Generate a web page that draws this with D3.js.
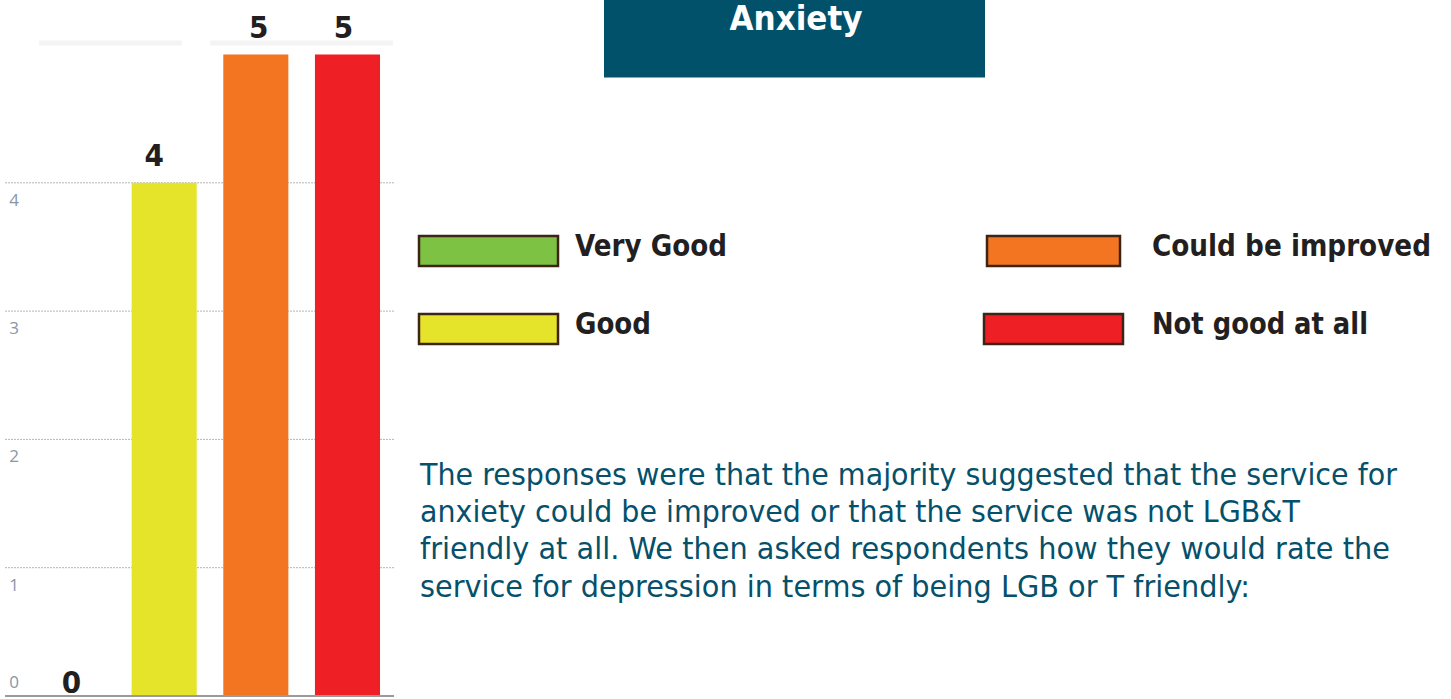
<!DOCTYPE html>
<html>
<head>
<meta charset="utf-8">
<script src="https://cdn.jsdelivr.net/npm/d3@7"></script>
<style>
  html, body { margin: 0; padding: 0; background: #fff; }
  svg { display: block; }
</style>
</head>
<body>
<div class="chart"></div>
<script>
// data
var categories = ["Very Good", "Good", "Could be improved", "Not good at all"];
var counts = [0, 4, 5, 5];
var barColors = ["#7dc242", "#e6e42a", "#f37522", "#ee1f25"];
var yTicks = [0, 1, 2, 3, 4];
var title = "Anxiety";
var noteLines = [
  "The responses were that the majority suggested that the service for",
  "anxiety could be improved or that the service was not LGB&T",
  "friendly at all. We then asked respondents how they would rate the",
  "service for depression in terms of being LGB or T friendly:"
];

var W = 1451, H = 699;
var svg = d3.select(".chart").append("svg")
  .attr("width", W)
  .attr("height", H);

var x = d3.scaleBand()
  .domain(categories)
  .range([26.7, 393.3])
  .paddingInner(0.29)
  .paddingOuter(0.145);

var y = d3.scaleLinear()
  .domain([0, 5])
  .range([696, 54.5]);

// faint band at the top (crop edge of the original chart)
svg.append("line")
  .attr("x1", 39).attr("x2", 182).attr("y1", 43).attr("y2", 43)
  .style("stroke", "#f4f4f4").style("stroke-width", 5);
svg.append("line")
  .attr("x1", 210).attr("x2", 393).attr("y1", 43).attr("y2", 43)
  .style("stroke", "#f4f4f4").style("stroke-width", 5);

// dotted gridlines
svg.selectAll(".grid")
  .data(yTicks.filter(function (d) { return d > 0; }))
  .enter().append("line")
  .attr("class", "grid")
  .attr("x1", 5).attr("x2", 395)
  .attr("y1", function (d) { return y(d); })
  .attr("y2", function (d) { return y(d); })
  .style("stroke", "#b4b4b4")
  .style("stroke-width", 1)
  .style("stroke-dasharray", "2,1");

// tick labels sit just under their gridline
svg.selectAll(".tick-label")
  .data(yTicks)
  .enter().append("text")
  .attr("class", "tick-label")
  .attr("x", 14)
  .attr("y", function (d) { return Math.min(y(d) + 23, 688); })
  .attr("text-anchor", "middle")
  .style("font-family", "'Open Sans', sans-serif")
  .style("font-size", "17px")
  .style("fill", "#8b95a8")
  .text(function (d) { return d; });

// bars
svg.selectAll(".bar")
  .data(counts)
  .enter().append("rect")
  .attr("class", "bar")
  .attr("x", function (d, i) { return x(categories[i]); })
  .attr("width", x.bandwidth())
  .attr("y", function (d) { return y(d); })
  .attr("height", function (d) { return y(0) - y(d); })
  .attr("fill", function (d, i) { return barColors[i]; });

// baseline
svg.append("line")
  .attr("x1", 5).attr("x2", 394)
  .attr("y1", y(0)).attr("y2", y(0))
  .style("stroke", "#9a9a9a")
  .style("stroke-width", 2);

// value labels (the original nudges some of them off centre)
var labelNudge = [-1, -10, 3, -4];
svg.selectAll(".value")
  .data(counts)
  .enter().append("text")
  .attr("class", "value")
  .attr("x", function (d, i) { return x(categories[i]) + x.bandwidth() / 2 + labelNudge[i]; })
  .attr("y", function (d) { return d > 0 ? y(d) - 17 : y(0) - 3; })
  .attr("text-anchor", "middle")
  .style("font-family", "'DejaVu Sans Condensed', 'DejaVu Sans', sans-serif")
  .style("font-weight", "bold")
  .style("font-size", "31px")
  .style("fill", "#231f20")
  .text(function (d) { return d; });

// title box
svg.append("rect")
  .attr("x", 604).attr("y", 0)
  .attr("width", 381).attr("height", 77.5)
  .attr("fill", "#02516b");
svg.append("text")
  .attr("x", 796)
  .attr("y", 30)
  .attr("text-anchor", "middle")
  .attr("textLength", 133)
  .attr("lengthAdjust", "spacingAndGlyphs")
  .style("font-family", "'DejaVu Sans', sans-serif")
  .style("font-weight", "bold")
  .style("font-size", "33px")
  .style("fill", "#ffffff")
  .text(title);

// legend
var legendPos = [
  {bx: 419, by: 236, bw: 139, tx: 575, ty: 256, tw: 152},
  {bx: 419, by: 314, bw: 139, tx: 575, ty: 334, tw: 76},
  {bx: 987, by: 236, bw: 133, tx: 1152, ty: 256, tw: 279},
  {bx: 984, by: 314, bw: 139, tx: 1152, ty: 334, tw: 216}
];
var legend = svg.selectAll(".legend")
  .data(categories)
  .enter().append("g")
  .attr("class", "legend");
legend.append("rect")
  .attr("x", function (d, i) { return legendPos[i].bx; })
  .attr("y", function (d, i) { return legendPos[i].by; })
  .attr("width", function (d, i) { return legendPos[i].bw; })
  .attr("height", 30)
  .attr("fill", function (d, i) { return barColors[i]; })
  .style("stroke", "#3d2416")
  .style("stroke-width", 2.5);
legend.append("text")
  .attr("x", function (d, i) { return legendPos[i].tx; })
  .attr("y", function (d, i) { return legendPos[i].ty; })
  .attr("textLength", function (d, i) { return legendPos[i].tw; })
  .attr("lengthAdjust", "spacingAndGlyphs")
  .style("font-family", "'DejaVu Sans', sans-serif")
  .style("font-weight", "bold")
  .style("font-size", "30px")
  .style("fill", "#231f20")
  .text(function (d) { return d; });

// note
var noteWidths = [977, 880, 970, 830];
svg.selectAll(".note")
  .data(noteLines)
  .enter().append("text")
  .attr("class", "note")
  .attr("x", 420)
  .attr("y", function (d, i) { return 485 + i * 37.2; })
  .attr("textLength", function (d, i) { return noteWidths[i]; })
  .attr("lengthAdjust", "spacingAndGlyphs")
  .style("font-family", "'DejaVu Sans', sans-serif")
  .style("font-size", "30px")
  .style("fill", "#05506a")
  .text(function (d) { return d; });
</script>
</body>
</html>
